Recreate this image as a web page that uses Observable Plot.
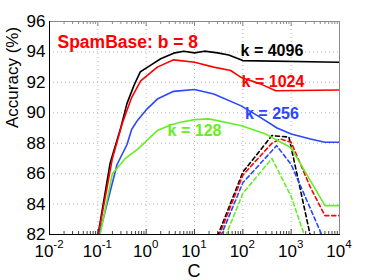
<!DOCTYPE html>
<html>
<head>
<meta charset="utf-8">
<script src="https://cdn.jsdelivr.net/npm/d3@7"></script>
<script src="https://cdn.jsdelivr.net/npm/@observablehq/plot@0.6"></script>
<style>
  html, body { margin: 0; padding: 0; background: #fff; }
  svg { display: block; }
</style>
</head>
<body>
<div id="chart"></div>
<script>
// ---- data ----
const xTicks = [1e-2, 1e-1, 1e0, 1e1, 1e2, 1e3, 1e4];
const xTickBase = "10";
const xTickExp = ["-2", "-1", "0", "1", "2", "3", "4"];
const yTicks = [82, 84, 86, 88, 90, 92, 94, 96];
const title = "SpamBase: b = 8";
const xLabel = "C";
const yLabel = "Accuracy (%)";

// solid curves
const s4096_C   = [0.1, 0.18, 0.3, 0.4, 0.56, 0.76, 1.2, 2, 3.7, 6, 10, 16, 30, 51, 100, 10000];
const s4096_acc = [81.9, 86.7, 89.05, 90.6, 91.8, 92.7, 93.1, 93.55, 93.92, 94.05, 93.94, 94.05, 93.94, 93.8, 93.43, 93.32];
const s1024_C   = [0.1, 0.2, 0.32, 0.5, 0.77, 1.7, 3.7, 10, 25, 56, 90, 230, 480, 10000];
const s1024_acc = [81.8, 87.0, 89.3, 91.0, 92.1, 93.0, 93.48, 93.32, 93.0, 92.78, 92.34, 91.9, 91.45, 91.5];
const s256_C    = [0.105, 0.25, 0.4, 0.5, 0.66, 1.05, 1.7, 3.7, 10, 25, 90, 230, 510, 1000, 2500, 5000, 10000];
const s256_acc  = [81.9, 86.6, 87.9, 88.9, 89.5, 90.26, 90.9, 91.41, 91.53, 91.24, 90.47, 89.7, 89.0, 88.6, 88.28, 88.06, 88.06];
const s128_C    = [0.11, 0.2, 0.37, 0.66, 1.7, 3.2, 5.1, 10, 20, 90, 300, 1000, 5000, 10000];
const s128_acc  = [81.9, 86.0, 87.0, 87.6, 88.83, 89.2, 89.38, 89.55, 89.6, 89.16, 88.6, 87.7, 83.9, 83.9];

// dashed curves
const d4096_C   = [30, 100, 400, 900, 2500];
const d4096_acc = [81.9, 86.1, 88.5, 88.4, 81.9];
const d1024_C   = [32, 100, 400, 600, 1000, 2500, 5000, 10000];
const d1024_acc = [81.9, 85.9, 88.0, 88.28, 88.06, 85.1, 83.24, 83.24];
const d256_C    = [35, 100, 500, 1000, 5000];
const d256_acc  = [81.9, 85.4, 87.84, 86.6, 81.5];
const d128_C    = [44, 100, 400, 1000, 2000];
const d128_acc  = [81.9, 84.7, 87.0, 84.5, 81.7];

const kNames  = ["4096", "1024", "256", "128"];
const colors  = ["#000000", "#ff0000", "#2a46ff", "#66ee22"];
const labelC   = [400, 420, 400, 10];
const labelAcc = [94.05, 92.0, 89.9, 88.83];

// ---- build tables ----
const zip = (C, acc) => C.map((c, i) => ({C: c, acc: acc[i]}));
const solid  = [zip(s4096_C, s4096_acc), zip(s1024_C, s1024_acc), zip(s256_C, s256_acc), zip(s128_C, s128_acc)];
const dashed = [zip(d4096_C, d4096_acc), zip(d1024_C, d1024_acc), zip(d256_C, d256_acc), zip(d128_C, d128_acc)];
const labels = kNames.map((k, i) => ({text: `k = ${k}`, C: labelC[i], acc: labelAcc[i], color: colors[i]}));

const minorX = [];
for (let e = -2; e < 4; e++) for (let m = 2; m <= 9; m++) minorX.push(m * Math.pow(10, e));

const font = "'Liberation Sans', Arial, Helvetica, sans-serif";
const W = 374, H = 280, mL = 49, mR = 35, mT = 21, mB = 46;
const innerH = H - mT - mB;

const marks = [
  Plot.gridX(xTicks, {stroke: "#b8b8b8", strokeOpacity: 1, strokeDasharray: "1,3"}),
  Plot.gridY(yTicks, {stroke: "#b8b8b8", strokeOpacity: 1, strokeDasharray: "1,3"}),
  // minor & major inward ticks
  Plot.tickX(minorX, {x: d => d, stroke: "#444", insetTop: innerH - 3}),
  Plot.tickX(minorX, {x: d => d, stroke: "#888", insetBottom: innerH - 3}),
  Plot.tickX(xTicks, {x: d => d, stroke: "#444", insetTop: innerH - 5}),
  Plot.tickX(xTicks, {x: d => d, stroke: "#888", insetBottom: innerH - 5}),
  Plot.frame({stroke: "#8a8a8a"}),
  Plot.frame({anchor: "left", stroke: "#000"}),
  Plot.frame({anchor: "bottom", stroke: "#000"}),
  Plot.axisY(yTicks, {tickSize: 0, tickPadding: 4, label: null, fontSize: 17, fill: "#000"}),
  Plot.text([yLabel], {frameAnchor: "left", rotate: -90, dx: -37, fontSize: 17, fill: "#000", text: d => d}),
  Plot.text([title], {frameAnchor: "top-left", textAnchor: "start", dx: 8, dy: 14.5, fontSize: 17.5, fontWeight: "bold", fill: "#ff0000", text: d => d})
];
colors.forEach((c, i) => {
  marks.push(Plot.line(dashed[i], {x: "C", y: "acc", stroke: c, strokeWidth: 1.6, strokeDasharray: "4,3", clip: true}));
});
colors.forEach((c, i) => {
  marks.push(Plot.line(solid[i], {x: "C", y: "acc", stroke: c, strokeWidth: 1.6, clip: true}));
});
labels.forEach(l => {
  marks.push(Plot.text([l], {x: "C", y: "acc", text: "text", fill: l.color, fontWeight: "bold", fontSize: 16}));
});

const chart = Plot.plot({
  width: W, height: H,
  marginLeft: mL, marginRight: mR, marginTop: mT, marginBottom: mB,
  x: {type: "log", domain: [1e-2, 1e4], axis: null},
  y: {domain: [82, 96]},
  style: {fontFamily: font, background: "#fff", color: "#000"},
  marks
});

// x tick labels with superscript exponents, placed through Plot's own x scale
const xs = chart.scale("x");
const svg = d3.select(chart);
const gx = svg.append("g").attr("aria-label", "x-axis tick label")
  .attr("font-family", font).attr("font-size", 17).attr("fill", "#000").attr("text-anchor", "middle");
xTicks.forEach((t, i) => {
  const txt = gx.append("text").attr("x", xs.apply(t)).attr("y", 257);
  txt.append("tspan").text(xTickBase);
  txt.append("tspan").attr("font-size", 11.5).attr("dy", -9).text(xTickExp[i]);
});
svg.append("text").attr("aria-label", "x-axis label")
  .attr("x", (mL + (W - mR)) / 2).attr("y", 277)
  .attr("font-family", font).attr("font-size", 18).attr("fill", "#000").attr("text-anchor", "middle")
  .text(xLabel);

document.getElementById("chart").appendChild(chart);
</script>
</body>
</html>
